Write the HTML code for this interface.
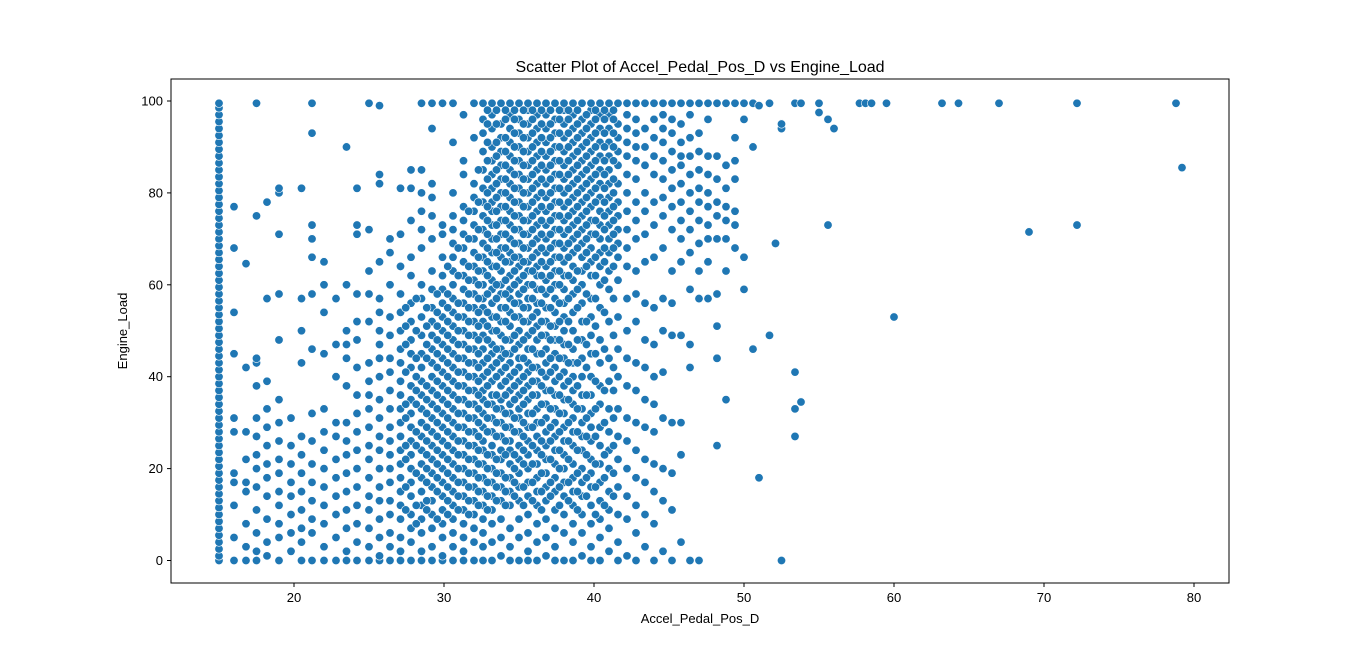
<!DOCTYPE html>
<html><head><meta charset="utf-8">
<style>
html,body{margin:0;padding:0;background:#fff;}
svg{display:block;font-family:"Liberation Sans","DejaVu Sans",sans-serif;}
</style></head>
<body>
<svg id="chart" width="1366" height="655" viewBox="0 0 1366 655" xmlns="http://www.w3.org/2000/svg">
<rect width="1366" height="655" fill="#fff"/>
<text x="700" y="72" text-anchor="middle" font-size="16">Scatter Plot of Accel_Pedal_Pos_D vs Engine_Load</text>
<text x="700" y="623" text-anchor="middle" font-size="13">Accel_Pedal_Pos_D</text>
<text transform="translate(127,331) rotate(-90)" text-anchor="middle" font-size="13">Engine_Load</text>
<g id="marks"></g>
<g id="axes"></g>
</svg>
<script>
const xTicks = [20,30,40,50,60,70,80];
const yTicks = [0,20,40,60,80,100];
const colX = [15,16,16.8,17.5,18.2,19,19.8,20.5,21.2,22,22.8,23.5,24.2,25,25.7,26.4,27.1,27.8,28.5,29.2,29.9,30.6,31.3,32,32.6,33.2,33.8,34.4,35,35.6,36.2,36.8,37.4,38,38.6,39.2,39.8,40.4,41,41.6,42.2,42.8,43.4,44,44.6,45.2,45.8,46.4,47,47.6,48.2,48.8,49.4,50,50.6,51,51.7,52.1,52.5,53.4,53.8,55,55.6,56,57.7,58.1,58.5,59.5,60,63.2,64.3,67,69,72.2,78.8,79.2,
27.45,28.15,28.85,29.55,30.25,30.95,31.65,32.3,32.9,33.5,34.1,34.7,35.3,35.9,36.5,37.1,37.7,38.3,38.9,39.5,40.1,40.7,41.3];
const colY = [
[0,1,2.5,4,5.5,7,8.5,10,11.5,13,14.5,16,17.5,19,20.5,22,23.5,25,26.5,28,29.5,31,32.5,34,35.5,37,38.5,40,41.5,43,44.5,46,47.5,49,50.5,52,53.5,55,56.5,58,59.5,61,62.5,64,65.5,67,68.5,70,71.5,73,74.5,76,77.5,79,80.5,82,83.5,85,86.5,88,89.5,91,92.5,94,95.5,97,98.5,99.5],
[0,5,12,17,19,28,31,45,54,68,77],
[0,3,8,15,17,22,28,42,64.6],
[0,2,6,11,16,20,23,27,31,38,43,44,75,99.5],
[1,4,9,14,18,21,25,29,33,39,57,78],
[0,5,8,12,15,19,22,26,30,35,48,58,71,80,81],
[2,6,10,14,17,21,25,31],
[0,4,7,11,15,19,23,27,43,50,57,81],
[0,6,9,13,17,21,26,32,46,58,66,70,73,93,99.5],
[0,3,8,12,16,20,24,28,33,45,54,60,65],
[0,5,10,14,18,22,27,30,40,47,57],
[0,2,7,11,15,19,23,26,30,38,44,47,50,60,90],
[0,4,8,12,16,20,24,28,32,36,42,48,52,58,71,73,81],
[0,3,7,11,14,18,22,25,29,33,36,39,43,52,58,63,72,99.5],
[0,1,5,9,13,16,20,24,27,31,35,40,44,47,50,54,57,65,82,84,99],
[0,3,6,10,13,17,20,23,26,29,33,37,41,44,49,53,60,67,70],
[0,2,5,9,12,15,18,21,24,27,30,33,36,39,43,46,50,54,58,64,71,81],
[0,4,7,10,14,17,20,23,26,29,32,35,38,42,45,48,52,56,62,66,74,81,85],
[0,2,6,9,12,15,18,21,24,27,30,33,36,39,42,45,49,53,57,60,68,72,76,80,85,99.5],
[0,3,7,10,13,16,19,22,25,28,31,34,37,40,43,46,49,52,55,59,63,70,75,79,82,94,99.5],
[0,1,5,8,11,14,17,20,23,26,29,32,35,38,41,44,47,50,53,56,59,62,66,71,73,99.5],
[0,3,6,9,12,15,18,21,24,27,30,33,36,39,42,45,48,51,54,57,60,63,66,69,72,75,80,91,99.5],
[0,2,5,8,11,14,17,20,23,26,29,32,35,38,41,44,47,50,53,56,59,62,65,68,71,74,77,84,87,97],
[0,4,7,10,13,16,19,22,25,28,31,34,37,40,43,46,49,52,55,58,61,64,67,70,73,76,79,82,92,99.5],
[0,3,6,9,12,15,18,21,24,26,29,32,35,37,40,43,46,49,52,55,57,60,63,66,69,72,75,78,81,85,89,93,96,99.5],
[0,4,8,11,14,17,20,23,25,28,31,34,36,39,42,45,47,50,53,56,59,61,64,67,70,73,76,78,81,84,87,90,94,97,99.5],
[1,5,9,13,16,19,22,24,27,30,33,35,38,41,44,46,49,52,55,58,60,63,66,68,71,74,77,80,83,86,89,92,95,99.5],
[0,3,7,12,15,18,21,24,26,29,32,34,37,40,43,45,48,51,54,57,59,62,65,67,70,73,76,79,82,85,88,91,94,97,99.5],
[0,5,9,13,16,19,22,25,28,31,33,36,39,42,44,47,50,53,56,58,61,64,66,69,72,75,78,81,84,87,90,93,96,99.5],
[0,2,6,10,14,17,20,23,26,29,32,35,38,41,43,46,49,52,55,57,60,63,65,68,71,74,77,80,83,86,89,92,95,98,99.5],
[0,4,8,12,15,18,21,24,27,30,33,36,39,42,45,48,51,54,56,59,62,64,67,70,73,76,79,82,85,88,91,94,97,99.5],
[1,5,9,13,16,19,22,25,28,31,34,37,40,43,46,49,52,55,58,61,64,67,70,73,76,79,82,85,88,91,94,97,99.5],
[0,3,7,11,15,18,21,24,27,30,33,36,39,42,45,48,51,54,57,60,63,66,69,72,75,78,81,84,87,90,93,96,99.5],
[0,6,10,14,17,20,23,26,29,32,35,38,41,44,47,50,53,56,59,62,65,68,71,74,77,80,83,86,89,92,95,98,99.5],
[0,4,8,12,15,18,21,25,28,31,34,37,40,43,46,50,54,58,61,64,67,70,73,76,79,82,85,88,91,94,97,99.5],
[1,6,10,14,17,20,24,27,30,33,36,40,44,48,52,56,60,63,66,69,72,75,78,81,84,87,90,93,96,99.5],
[0,3,8,12,16,19,22,26,29,32,36,40,45,49,53,57,62,65,68,71,74,77,80,83,86,89,92,95,98,99.5],
[0,5,9,13,17,21,25,29,34,38,43,48,55,60,64,67,70,73,76,79,82,85,88,91,94,97,99.5],
[2,7,11,15,20,24,28,33,39,44,52,59,63,67,70,73,76,79,82,85,88,91,94,97,99.5],
[0,4,10,16,22,27,33,40,46,53,61,66,69,72,75,78,82,86,89,92,95,99.5],
[1,9,14,20,26,31,38,44,50,57,64,68,72,76,80,84,88,91,94,97,99.5],
[0,6,12,18,24,30,37,43,52,58,63,70,74,78,83,87,90,93,96,99.5],
[3,10,17,22,29,35,42,48,56,65,71,76,80,86,90,94,99.5],
[0,8,15,21,28,34,40,47,55,66,73,78,84,88,92,96,99.5],
[2,13,20,31,41,50,57,68,75,79,83,87,91,94,97,99.5],
[0,11,19,30,49,56,63,72,77,81,85,89,93,96,99.5],
[4,23,30,49,65,70,74,78,82,86,88,91,95,99.5],
[0,42,47,59,67,72,76,80,84,88,92,97,99.5],
[0,57,63,69,74,78,81,85,89,93,99.5],
[57,65,70,73,77,80,84,88,96,99.5],
[25,44,51,58,70,75,78,83,88,99.5],
[35,63,70,74,77,81,86,99.5],
[68,73,76,83,87,92,99.5],
[59,66,96,99.5],
[46,90,99.5],
[18,99],
[49,99.5],
[69],
[0,94,95],
[27,33,41,99.5],
[34.5,99.5],
[97.5,99.5],
[73,96],
[94],
[99.5],[99.5],[99.5],[99.5],
[53],
[99.5],[99.5],[99.5],
[71.5],
[73,99.5],
[99.5],
[85.5],
[11,16,22,25,31,34,41,47,51,55],
[8,12,19,25,28,34,37,40,44,50,57],
[11,13,17,20,23,26,29,32,35,38,44,47,51,55],
[9,15,18,21,24,27,30,33,36,39,42,45,48,51,54,58],
[10,13,16,19,22,25,28,31,34,37,40,43,46,49,52,55,58,64],
[11,14,17,20,23,26,29,32,35,38,41,44,47,50,53,56,62,68],
[10,13,16,19,22,25,28,31,34,37,40,43,46,49,52,55,58,61,64,70,76],
[12,15,18,21,24,27,30,33,36,39,42,45,48,51,54,57,60,63,66,72,78,85],
[11,14,17,20,23,28,31,34,38,41,44,48,51,54,58,62,65,68,71,74,77,80,83,87,91,95,98],
[13,16,19,22,27,30,33,36,40,43,46,50,53,57,60,64,67,70,73,76,79,82,85,88,91,95,98],
[12,15,18,23,26,29,32,36,39,42,45,48,52,55,58,61,65,68,71,74,77,80,83,86,89,92,96,98],
[14,17,20,23,28,31,35,38,41,46,49,53,56,60,63,66,69,72,75,78,81,84,87,90,93,96,98],
[12,16,21,24,27,30,34,37,40,44,48,52,55,59,62,65,68,71,74,77,80,83,86,89,92,95,98],
[13,17,21,25,29,32,36,39,42,46,50,53,57,60,63,66,69,72,75,78,81,84,87,90,93,96,98],
[11,15,19,23,26,30,34,38,41,45,49,52,56,59,62,65,68,71,74,77,80,83,86,89,92,95,98],
[14,17,22,26,29,33,37,41,44,48,51,55,59,62,65,68,71,74,77,80,83,86,89,92,95,98],
[12,16,20,24,28,32,36,40,44,48,52,56,60,63,66,69,72,75,78,81,84,87,90,93,96,98],
[13,17,22,26,30,35,39,43,47,52,57,62,66,69,72,75,78,81,84,87,90,93,96,98],
[11,15,19,24,28,33,38,43,48,55,59,63,68,71,74,77,80,83,86,89,92,95,98],
[14,18,23,27,31,36,42,47,52,58,64,67,70,73,76,79,82,85,88,91,94,97],
[10,16,21,27,33,39,45,51,57,62,66,71,74,78,81,84,87,90,93,96,98],
[12,18,23,30,37,46,54,61,65,68,72,75,78,81,84,87,90,93,96,98],
[14,19,25,31,37,42,49,57,64,68,71,74,77,80,83,87,90,93,96,98]
];

const plot = {left:171, right:1229, top:79, bottom:583};
function sx(v){ return 219 + (v - 15) * 15; }
function sy(v){ return 560.5 - v * 4.595; }
const NS = "http://www.w3.org/2000/svg";
const marks = document.getElementById('marks');
colX.forEach((x, i) => {
  colY[i].forEach(y => {
    const c = document.createElementNS(NS, 'circle');
    
    
    c.setAttribute('cx', sx(x));
    c.setAttribute('cy', sy(y));
    c.setAttribute('r', 4.2);
    c.setAttribute('fill', '#1f77b4');
    c.setAttribute('stroke', '#fff');
    c.setAttribute('stroke-width', 0.6);
    marks.appendChild(c);
  });
});
const axes = document.getElementById('axes');
const frame = document.createElementNS(NS, 'rect');


frame.setAttribute('x', plot.left); frame.setAttribute('y', plot.top);
frame.setAttribute('width', plot.right - plot.left); frame.setAttribute('height', plot.bottom - plot.top);
frame.setAttribute('fill', 'none'); frame.setAttribute('stroke', '#000'); frame.setAttribute('stroke-width', 1);
axes.appendChild(frame);
xTicks.forEach(t => {
  const X = sx(t);
  const l = document.createElementNS(NS, 'line');
  
  
  l.setAttribute('x1', X); l.setAttribute('x2', X);
  l.setAttribute('y1', plot.bottom); l.setAttribute('y2', plot.bottom + 4);
  l.setAttribute('stroke', '#000');
  axes.appendChild(l);
  const tx = document.createElementNS(NS, 'text');
  
  
  tx.setAttribute('x', X); tx.setAttribute('y', plot.bottom + 19);
  tx.setAttribute('text-anchor', 'middle'); tx.setAttribute('font-size', '13');
  tx.textContent = t;
  axes.appendChild(tx);
});
yTicks.forEach(t => {
  const Y = sy(t);
  const l = document.createElementNS(NS, 'line');
  
  
  l.setAttribute('x1', plot.left - 4); l.setAttribute('x2', plot.left);
  l.setAttribute('y1', Y); l.setAttribute('y2', Y);
  l.setAttribute('stroke', '#000');
  axes.appendChild(l);
  const tx = document.createElementNS(NS, 'text');
  
  
  tx.setAttribute('x', plot.left - 8); tx.setAttribute('y', Y + 4.5);
  tx.setAttribute('text-anchor', 'end'); tx.setAttribute('font-size', '13');
  tx.textContent = t;
  axes.appendChild(tx);
});
</script>
</body></html>
